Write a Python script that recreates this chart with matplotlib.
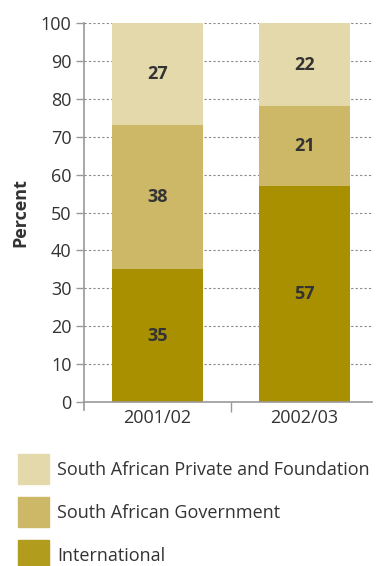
import matplotlib
matplotlib.use("Agg")
import matplotlib.pyplot as plt
from matplotlib.patches import Rectangle
import numpy as np

plt.rcParams['font.family'] = ['Open Sans', 'DejaVu Sans']

categories = ["2001/02", "2002/03"]
series_names = ["International", "South African Government", "South African Private and Foundation"]
international = [35, 57]
government = [38, 21]
private = [27, 22]
colors = ["#A89000", "#CCB866", "#E4D9AB"]
legend_colors = ["#B29C1E", "#CCB866", "#E4D9AB"]
yticks = [0, 10, 20, 30, 40, 50, 60, 70, 80, 90, 100]

fig = plt.figure(figsize=(3.76, 5.66), dpi=100)
ax = fig.add_axes([84/376, 1-402/566, (372-84)/376, (402-23)/566])

x = np.arange(len(categories))
bottom = np.zeros(len(categories))
for vals, c in zip([international, government, private], colors):
    ax.bar(x, vals, width=0.62, bottom=bottom, color=c, zorder=2)
    for xi, v, b in zip(x, vals, bottom):
        ax.text(xi, b + v/2, str(v), ha='center', va='center', fontsize=13,
                fontweight='bold', color='#333333', zorder=3)
    bottom = bottom + np.array(vals)

ax.set_xlim(-0.5, 1.46)
ax.set_ylim(0, 100)
ax.set_yticks(yticks)
ax.set_yticklabels([str(t) for t in yticks], fontsize=13, color='#333333')
ax.set_xticks(x)
ax.set_xticklabels(categories, fontsize=13, color='#333333')
ax.set_xticks([0.5], minor=True)
ax.tick_params(axis='x', which='major', length=0, pad=5)
ax.tick_params(axis='x', which='minor', length=7, color='#999999', width=1)
ax.tick_params(axis='y', length=6, color='#999999', width=1, pad=3)
for t in yticks[1:]:
    ax.axhline(t, color='#888888', lw=0.8, ls=(0, (2, 2)), zorder=1)
for s in ['top', 'right']:
    ax.spines[s].set_visible(False)
ax.spines['left'].set_color('#999999')
ax.spines['bottom'].set_color('#999999')
ax.spines['left'].set_linewidth(1.2)
ax.spines['bottom'].set_linewidth(1.2)
ax.spines['left'].set_bounds(-2, 100)
ax.set_ylabel("Percent", fontsize=13, fontweight='bold', color='#333333', labelpad=8)

# legend (top to bottom: private, government, international)
leg_tops = [454, 497, 540]
for top, name, c in zip(leg_tops, series_names[::-1], legend_colors[::-1]):
    fig.patches.append(Rectangle((18/376, 1-(top+30)/566), 31/376, 30/566,
                                 transform=fig.transFigure, color=c, figure=fig))
    fig.text(57/376, 1-(top+16)/566, name, fontsize=13, color='#333333', va='center', ha='left')

fig.savefig("out.png", dpi=100)
